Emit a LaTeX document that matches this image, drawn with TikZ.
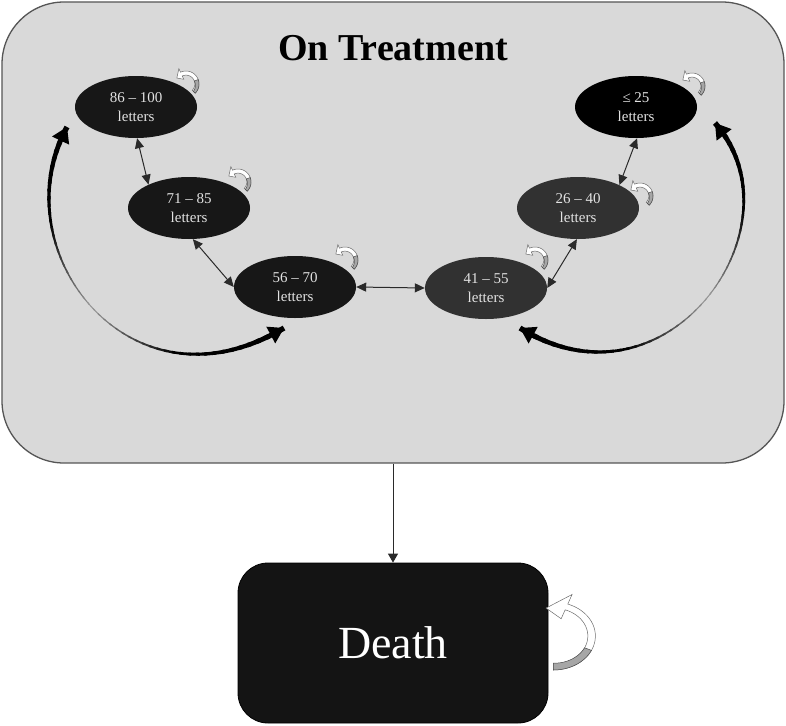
\documentclass[tikz,border=0pt]{standalone}
\usepackage{fontspec}
\setmainfont{Liberation Serif}
\usetikzlibrary{shapes.geometric,arrows.meta,calc}
\definecolor{boxgray}{HTML}{D9D9D9}
\definecolor{boxline}{HTML}{555555}
\definecolor{darkA}{HTML}{171717}
\definecolor{darkB}{HTML}{313131}
\definecolor{txtgray}{HTML}{E2E2E2}
\definecolor{deathfill}{HTML}{141414}
\definecolor{lineg}{HTML}{2A2A2A}
\tikzset{
  stateell/.style={ellipse, minimum width=122pt, minimum height=62pt, inner sep=0pt,
    text=txtgray, align=center, font=\fontsize{15}{19}\selectfont},
  dblarrow/.style={draw=lineg, line width=1pt,
    {Triangle[length=10pt,width=9pt]}-{Triangle[length=10pt,width=9pt]}},
  pics/loopy/.style={code={
    \fill[white, draw=gray!85!black, line width=0.5pt]
      plot[domain=90:-70,samples=30] ({cos(\x)},{sin(\x)})
      -- ({1.3*cos(-70)},{1.3*sin(-70)})
      -- ({0.84*cos(-102)},{0.84*sin(-102)})
      -- ({(#1-0.28)*cos(-70)},{(#1-0.28)*sin(-70)})
      -- ({#1*cos(-70)},{#1*sin(-70)})
      -- plot[domain=-70:90,samples=30] ({#1*cos(\x)},{#1*sin(\x)}) -- cycle;
    \fill[gray!70, draw=gray!60!black, line width=0.5pt]
      plot[domain=90:25,samples=12] ({cos(\x)},{sin(\x)})
      -- plot[domain=25:90,samples=12] ({(#1+(0.8-#1)*(\x-25)/65)*cos(\x)},{(#1+(0.8-#1)*(\x-25)/65)*sin(\x)}) -- cycle;
  }}
}
% tapered Bezier: control points in \Pax..\Pdy
\tikzset{declare function={
  bx(\q)=(1-\q)*(1-\q)*(1-\q)*\Pax+3*(1-\q)*(1-\q)*\q*\Pbx+3*(1-\q)*\q*\q*\Pcx+\q*\q*\q*\Pdx;
  by(\q)=(1-\q)*(1-\q)*(1-\q)*\Pay+3*(1-\q)*(1-\q)*\q*\Pby+3*(1-\q)*\q*\q*\Pcy+\q*\q*\q*\Pdy;
  dxs(\q)=0.03*((1-\q)*(1-\q)*(\Pbx-\Pax)+2*(1-\q)*\q*(\Pcx-\Pbx)+\q*\q*(\Pdx-\Pcx));
  dys(\q)=0.03*((1-\q)*(1-\q)*(\Pby-\Pay)+2*(1-\q)*\q*(\Pcy-\Pby)+\q*\q*(\Pdy-\Pcy));
  dl(\q)=sqrt(dxs(\q)*dxs(\q)+dys(\q)*dys(\q));
  ux(\q)=dxs(\q)/dl(\q);
  uy(\q)=dys(\q)/dl(\q);
  hw(\q)=0.5+2.2*abs(2*\q-1)*sqrt(abs(2*\q-1));
  nx(\q)=-dys(\q)/dl(\q);
  ny(\q)=dxs(\q)/dl(\q);
}}
\newcommand\tapercurve{%
  \foreach \i in {0,...,49}{%
    \pgfmathsetmacro\ta{\i/50}%
    \pgfmathsetmacro\tb{min(1,(\i+1.4)/50)}%
    \pgfmathtruncatemacro\cc{min(100,40+120*abs(2*(\i+0.5)/50-1))}%
    \fill[black!\cc!white]
      plot[domain=\ta:\tb, samples=4, variable=\q] ({bx(\q)+hw(\q)*nx(\q)},{by(\q)+hw(\q)*ny(\q)})
      -- plot[domain=\tb:\ta, samples=4, variable=\q] ({bx(\q)-hw(\q)*nx(\q)},{by(\q)-hw(\q)*ny(\q)})
      -- cycle;
  }%
  % arrow heads at both ends (length 15, half width 9.5)
  \fill[black] (\Pax,\Pay)
    -- ({\Pax+15*ux(0.02)+9.5*nx(0.02)},{\Pay+15*uy(0.02)+9.5*ny(0.02)})
    -- ({\Pax+15*ux(0.02)-9.5*nx(0.02)},{\Pay+15*uy(0.02)-9.5*ny(0.02)}) -- cycle;
  \fill[black] (\Pdx,\Pdy)
    -- ({\Pdx-15*ux(0.98)+9.5*nx(0.98)},{\Pdy-15*uy(0.98)+9.5*ny(0.98)})
    -- ({\Pdx-15*ux(0.98)-9.5*nx(0.98)},{\Pdy-15*uy(0.98)-9.5*ny(0.98)}) -- cycle;
}
\begin{document}
\begin{tikzpicture}[x=1pt,y=-1pt]
\useasboundingbox (0,0) rectangle (786,725);
% main box
\node[draw=boxline, line width=1.3pt, fill=boxgray, rounded corners=62pt,
  minimum width=782pt, minimum height=461pt, inner sep=0pt] (treat) at (393,232.5) {};
\node[anchor=base, font=\fontsize{38}{40}\selectfont\bfseries, inner sep=0pt] (title) at (393,60) {On Treatment};
% states
\node[stateell, fill=darkA] (e1) at (136,107) {86 – 100\\letters};
\node[stateell, fill=darkA] (e2) at (189,208) {71 – 85\\letters};
\node[stateell, fill=darkA] (e3) at (295,287) {56 – 70\\letters};
\node[stateell, fill=darkB] (e4) at (486,288) {41 – 55\\letters};
\node[stateell, fill=darkB] (e5) at (578,208) {26 – 40\\letters};
\node[stateell, fill=black] (e6) at (636,107) {≤ 25\\letters};
% neighbour transitions
\draw[dblarrow] (e1.-88) -- (e2.150);
\draw[dblarrow] (e2.-83) -- (e3.west);
\draw[dblarrow] (e3.east) -- (e4.west);
\draw[dblarrow] (e4.east) -- (e5.-92);
\draw[dblarrow] (e5.29) -- (e6.-88);
% big curved transitions (left): from near e1 to near e3
\def\Pax{67}\def\Pay{127}\def\Pbx{0}\def\Pby{250}\def\Pcx{130}\def\Pcy{420}\def\Pdx{284}\def\Pdy{328}
\tapercurve
% big curved transitions (right): from near e6 to near e4
\def\Pax{715}\def\Pay{123}\def\Pbx{805}\def\Pby{225}\def\Pcx{668}\def\Pcy{420}\def\Pdx{520}\def\Pdy{328}
\tapercurve
% self loops
\pic[rotate=45, scale=13] at ($(e1.center)+(50,-23)$) {loopy=0.68};
\pic[rotate=45, scale=13] at ($(e2.center)+(49,-26)$) {loopy=0.68};
\pic[rotate=45, scale=13] at ($(e3.center)+(50,-27)$) {loopy=0.68};
\pic[rotate=45, scale=13] at ($(e4.center)+(49,-28)$) {loopy=0.68};
\pic[rotate=45, scale=13] at ($(e5.center)+(62,-12)$) {loopy=0.68};
\pic[rotate=45, scale=13] at ($(e6.center)+(56,-21)$) {loopy=0.68};
% death
\node[draw=black, line width=0.8pt, fill=deathfill, rounded corners=30pt,
  minimum width=310pt, minimum height=160pt, inner sep=0pt, text=white,
  font=\fontsize{46}{50}\selectfont] (death) at (393,643) {Death};
\draw[draw=lineg, line width=1pt, -{Triangle[length=9pt,width=10pt]}] (treat.south) -- (death.north);
\pic[xscale=42, yscale=34] at ($(death.east)+(5,-7)$) {loopy=0.82};
\end{tikzpicture}
\end{document}
